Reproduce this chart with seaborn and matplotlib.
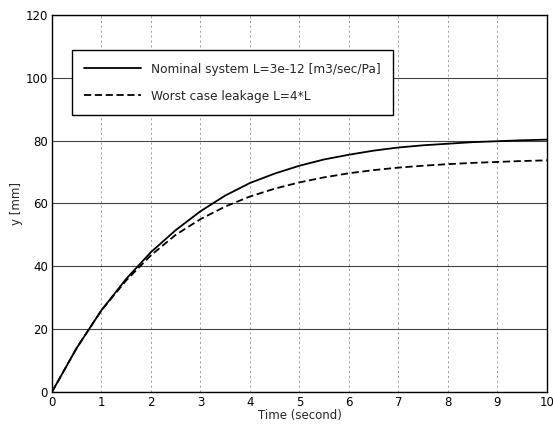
import numpy as np
import pandas as pd
import matplotlib
matplotlib.use("Agg")
import matplotlib.pyplot as plt
import seaborn as sns

# time axis (s) and responses (mm)
time_s = [0, 0.5, 1, 1.5, 2, 2.5, 3, 3.5, 4, 4.5, 5, 5.5, 6, 6.5, 7, 7.5, 8, 8.5, 9, 9.5, 10]
nominal_mm = [0, 14, 26, 36, 44.5, 51.5, 57.5, 62.5, 66.5, 69.5, 72, 74, 75.5, 76.8, 77.8,
              78.5, 79, 79.5, 79.8, 80.1, 80.3]
leakage_mm = [0, 14, 26, 35.5, 43.5, 50, 55, 59, 62.2, 64.7, 66.7, 68.3, 69.6, 70.6,
              71.4, 72, 72.5, 72.9, 73.2, 73.5, 73.7]

label_nom = "Nominal system L=3e-12 [m3/sec/Pa]"
label_leak = "Worst case leakage L=4*L"

x_ticks = list(range(0, 11))
y_ticks = [0, 20, 40, 60, 80, 100, 120]

df = pd.DataFrame({
    "t": time_s * 2,
    "y": nominal_mm + leakage_mm,
    "case": [label_nom] * len(time_s) + [label_leak] * len(time_s),
})

sns.set_style("white")
plt.rcParams["font.family"] = ["DejaVu Sans"]

fig = plt.figure(figsize=(5.53, 4.26), dpi=100)
ax = fig.add_axes([0.094, 0.080, 0.895, 0.885])

sns.lineplot(data=df, x="t", y="y", hue="case", style="case",
             palette=["black", "black"], dashes=[(None, None), (4, 2)],
             linewidth=1.3, ax=ax)

ax.set_xlim(0, 10)
ax.set_ylim(0, 120)
ax.set_xticks(x_ticks)
ax.set_yticks(y_ticks)
ax.set_xticklabels([str(v) for v in x_ticks])
ax.set_yticklabels([str(v) for v in y_ticks])
ax.tick_params(direction="in", length=4, labelsize=8.5, colors="black", pad=3)

# MATLAB-ish grid: horizontal lines darker, vertical dotted
ax.yaxis.grid(True, color="#444444", linestyle="-", linewidth=0.8)
ax.xaxis.grid(True, color="#999999", linestyle=(0, (2, 3)), linewidth=0.7)

for sp in ax.spines.values():
    sp.set_color("black")
    sp.set_linewidth(1.0)

ax.set_xlabel("Time (second)", fontsize=8.5, labelpad=0)
ax.set_ylabel("y [mm]", fontsize=8.5, labelpad=2)

leg = ax.legend(loc="upper left", bbox_to_anchor=(0.04, 0.907), fontsize=8.7,
                frameon=True, fancybox=False, edgecolor="black", framealpha=1,
                handlelength=4.7, borderpad=1.05, labelspacing=1.15, handletextpad=0.8,
                borderaxespad=0)
leg.get_frame().set_linewidth(1.0)
leg.set_title(None)

fig.savefig("out.png", dpi=100)
